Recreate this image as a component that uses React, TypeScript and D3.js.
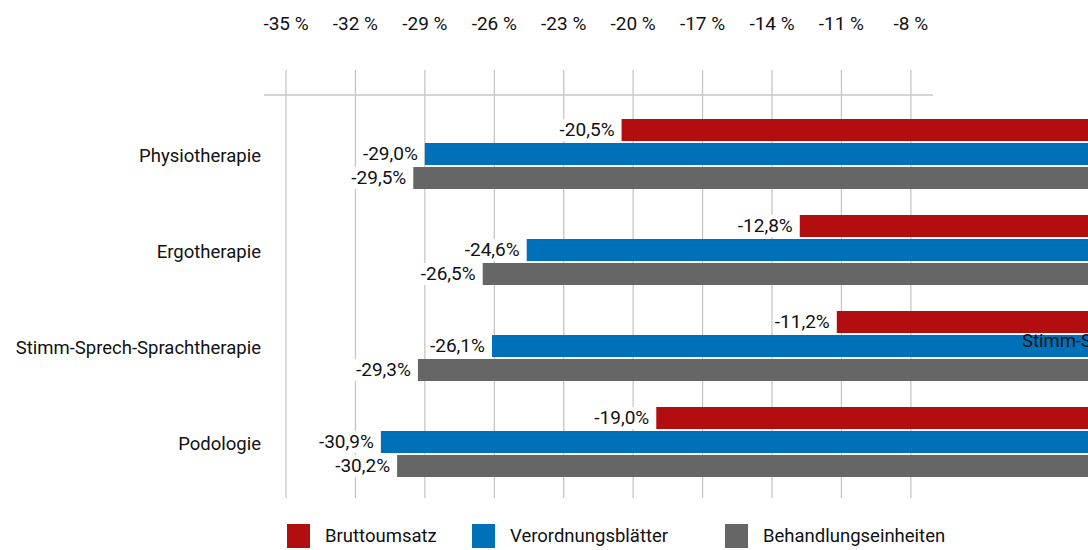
import React from 'react';
import { scaleBand, scaleLinear, range } from 'd3';

const categories = ['Physiotherapie', 'Ergotherapie', 'Stimm-Sprech-Sprachtherapie', 'Podologie'];
const seriesNames = ['Bruttoumsatz', 'Verordnungsblätter', 'Behandlungseinheiten'];
const bruttoumsatz = [-20.5, -12.8, -11.2, -19.0];
const verordnungsblaetter = [-29.0, -24.6, -26.1, -30.9];
const behandlungseinheiten = [-29.5, -26.5, -29.3, -30.2];
const tickValues = range(-35, -7, 3);

const colors = ['#b20e10', '#0071b9', '#666666'];
const FONT = 'Roboto, "Noto Sans", sans-serif';

const dims = {
    width: 1088,
    height: 550,
    plotTop: 106,
    plotBottom: 490,
    gridTop: 70,
    gridBottom: 498,
    axisY: 95,
};

const measure = (() => {
    const ctx = document.createElement('canvas').getContext('2d');
    return (txt: string, size: number) => {
        if (!ctx) return txt.length * size * 0.5;
        ctx.font = `${size}px Roboto`;
        return ctx.measureText(txt).width;
    };
})();

const fmt = (v: number) => `${v.toFixed(1).replace('.', ',')}%`;

const App: React.FC = () => {
    const allSeries = [bruttoumsatz, verordnungsblaetter, behandlungseinheiten];

    const x = scaleLinear().domain([-35, 0]).range([286, 1096]);
    const y = scaleBand().domain(categories).range([dims.plotTop, dims.plotBottom]);
    const yInner = scaleBand().domain(seriesNames).range([0, 70]).paddingInner(2 / 24);

    const legendX = [287, 472, 725];
    const valueSize = 19;

    return (
        <svg width={dims.width} height={dims.height}
            style={{ position: 'absolute', left: 0, top: 0, display: 'block', fontFamily: FONT }}>
            {/* grid */}
            {tickValues.map(t => (
                <g key={t}>
                    <line x1={x(t)} x2={x(t)} y1={dims.gridTop} y2={dims.gridBottom} stroke="#c6c6c6" strokeWidth={1.3} />
                    <text x={x(t)} y={25} textAnchor="middle" dominantBaseline="middle" fontSize={19} fill="#111">{`${t} %`}</text>
                </g>
            ))}
            <line x1={264} x2={933} y1={dims.axisY} y2={dims.axisY} stroke="#c6c6c6" strokeWidth={1.3} />

            {/* categories */}
            {categories.map(c => (
                <text key={c} x={261} y={y(c)! + y.bandwidth() / 2 + 3} textAnchor="end" dominantBaseline="middle" fontSize={18.5} fill="#111">{c}</text>
            ))}

            {/* bars */}
            {categories.map((c, ci) => {
                const top = y(c)! + y.bandwidth() / 2 - 35;
                return seriesNames.map((s, si) => {
                    const v = allSeries[si][ci];
                    const by = top + yInner(s)!;
                    const bh = yInner.bandwidth();
                    const label = fmt(v);
                    const lw = measure(label, valueSize);
                    const lx = x(v) - 7;
                    return (
                        <g key={c + s}>
                            <rect x={x(v)} y={by} width={x(0) - x(v)} height={bh} fill={colors[si]} />
                            <rect x={lx - lw - 2} y={by} width={lw + 4} height={bh} fill="#fff" />
                            <text x={lx} y={by + bh / 2 + 1} textAnchor="end" dominantBaseline="middle" fontSize={valueSize} fill="#111">{label}</text>
                        </g>
                    );
                });
            })}

            <text x={1022} y={342} dominantBaseline="middle" fontSize={18.5} fill="#111">{categories[2]}</text>

            {/* legend */}
            {seriesNames.map((s, i) => (
                <g key={s}>
                    <rect x={legendX[i]} y={524} width={23} height={24} fill={colors[i]} />
                    <text x={legendX[i] + 38} y={537} dominantBaseline="middle" fontSize={18.5} fill="#111">{s}</text>
                </g>
            ))}
        </svg>
    );
};

export default App;
